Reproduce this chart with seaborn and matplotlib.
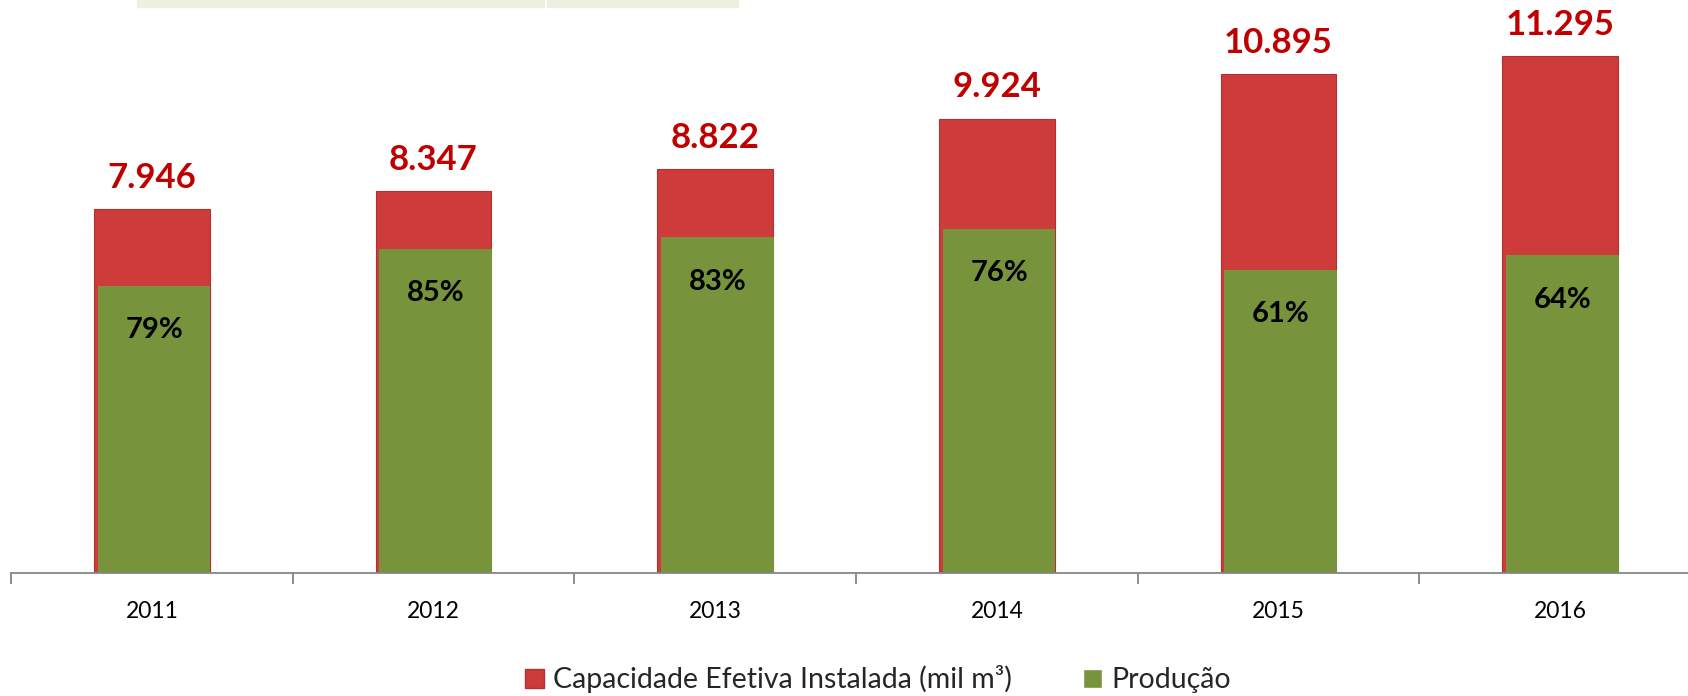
import numpy as np
import pandas as pd
import seaborn as sns
import matplotlib.pyplot as plt
from matplotlib.patches import Patch, Rectangle

# dados
anos = ['2011', '2012', '2013', '2014', '2015', '2016']
capacidade = [7946, 8347, 8822, 9924, 10895, 11295]
producao = [6270, 7080, 7335, 7515, 6620, 6940]
pct_labels = ['79%', '85%', '83%', '76%', '61%', '64%']
cap_labels = ['7.946', '8.347', '8.822', '9.924', '10.895', '11.295']

cor_cap = '#CD3C3A'
cor_prod = '#77933C'
cor_txt = '#C00000'

df = pd.DataFrame({'ano': anos, 'capacidade': capacidade, 'producao': producao})

sns.set_style('white')
plt.rcParams['font.family'] = ['Lato', 'DejaVu Sans']

fig = plt.figure(figsize=(16.88, 6.96), dpi=100)
# o eixo passa um pouco da borda direita, como no original
ax = fig.add_axes([11/1688, 123/696, 1690/1688, 573/696])

sns.barplot(data=df, x='ano', y='capacidade', color=cor_cap, saturation=1, width=0.41,
            edgecolor='#B23030', linewidth=0.8, ax=ax)
n_red = len(ax.patches)
sns.barplot(data=df, x='ano', y='producao', color=cor_prod, saturation=1, width=0.40,
            linewidth=0, ax=ax)
for p in ax.patches[n_red:]:
    p.set_x(p.get_x() + 0.008)

for i, (c, p) in enumerate(zip(capacidade, producao)):
    ax.annotate(cap_labels[i], xy=(i, c), xytext=(0, 11), textcoords='offset points',
                ha='center', va='bottom', fontsize=25, fontweight='bold', color=cor_txt)
    ax.annotate(pct_labels[i], xy=(i + 0.008, p), xytext=(0, -32), textcoords='offset points',
                ha='center', va='center', fontsize=21, fontweight='bold', color='black')

ax.set_ylim(0, 12519)
ax.set_xlim(-0.5, 5.5)
ax.set_xlabel('')
ax.set_ylabel('')
ax.set_yticks([])
for s in ['top', 'right', 'left']:
    ax.spines[s].set_visible(False)
ax.spines['bottom'].set_color('#868686')
ax.spines['bottom'].set_linewidth(1.3)
ax.set_xticks(np.arange(-0.5, 6, 1), minor=True)
ax.tick_params(axis='x', which='major', bottom=False, length=0, labelsize=16.5, pad=20,
               labelcolor='black')
ax.tick_params(axis='x', which='minor', bottom=True, length=8, width=1.3, color='#868686',
               direction='out')

# faixas claras no topo (resto de tabela)
fig.patches.append(Rectangle((137/1688, 689/696), 407/1688, 7/696, transform=fig.transFigure,
                             color='#EBF1DE', zorder=0))
fig.patches.append(Rectangle((547/1688, 689/696), 191/1688, 7/696, transform=fig.transFigure,
                             color='#EBF1DE', zorder=0))

handles = [Patch(facecolor=cor_cap, edgecolor='#B23030', label='Capacidade Efetiva Instalada (mil m³)'),
           Patch(facecolor=cor_prod, label='Produção')]
fig.legend(handles=handles, loc='lower center', bbox_to_anchor=(0.52, -0.033), ncol=2,
           frameon=False, fontsize=20.5, handlelength=0.68, handleheight=0.68,
           handletextpad=0.3, columnspacing=2.5)

fig.savefig('out.png', dpi=100)
